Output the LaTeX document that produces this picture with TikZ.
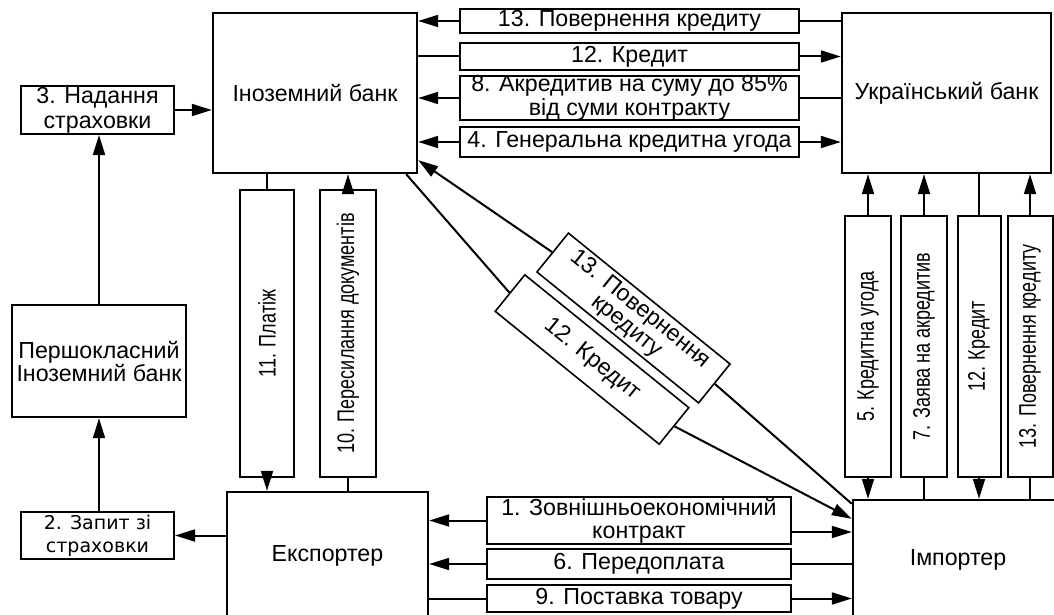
\documentclass[tikz,border=0pt]{standalone}
\usepackage{fontspec}
\setmainfont{Liberation Sans}
\newfontfamily\dejavu{DejaVu Sans}
\usepackage{graphicx}
\usetikzlibrary{arrows.meta}
\newcommand{\vtext}[1]{\rotatebox{90}{\fontsize{12}{12}\selectfont\scalebox{0.75}[1]{#1}}}

\begin{document}
\begin{tikzpicture}[x=0.5pt,y=-0.5pt,
  box/.style={draw,line width=1.2pt,align=center,inner sep=0pt,font=\fontsize{11.6}{11.5}\selectfont},
  lbl/.style={box,line width=1pt},
  ln/.style={line width=1pt},
  arr/.style={line width=1pt,-{Triangle[length=10pt,width=6pt]}}]
\useasboundingbox (0,0) rectangle (1054,615);

\node[box,minimum width=102pt,minimum height=80pt] (ino) at (315,93) {Іноземний банк};
\node[box,minimum width=104.5pt,minimum height=80pt] (ukr) at (946.5,93) {Український банк};
\node[box,minimum width=100.5pt,minimum height=64pt] (exp) at (327.5,556) {Експортер};
\node[box,minimum width=105pt,minimum height=60pt] (imp) at (958,560) {Імпортер};
\node[box,minimum width=87pt,minimum height=56pt] (pers) at (99,361) {Першокласний\\Іноземний банк};
\node[lbl,minimum width=76.5pt,minimum height=24pt,font=\fontsize{11.6}{12.5}\selectfont] (ins3) at (97.5,110) {3. Надання\\страховки};
\node[lbl,minimum width=76.5pt,minimum height=23.5pt,font=\dejavu\fontsize{9.5}{11.5}\selectfont] (ins2) at (97.5,535.5) {2. Запит зі\\страховки};

\draw[arr] (ins3.east) -- (ino.west |- ins3);
\draw[arr] (pers.north) -- (pers.north |- ins3.south);
\draw[arr] (ins2.north -| pers.north) -- (pers.south);
\draw[arr] (exp.west |- ins2) -- (ins2.east);

\node[lbl,minimum width=169.5pt,minimum height=12pt] (t13) at (629.5,21) {13. Повернення кредиту};
\node[lbl,minimum width=169.5pt,minimum height=13.5pt] (t12) at (629.5,56.5) {12. Кредит};
\node[lbl,minimum width=169.5pt,minimum height=20pt,font=\fontsize{11.6}{9.5}\selectfont] (t8) at (629.5,98) {8. Акредитив на суму до 85\%\\від суми контракту};
\node[lbl,minimum width=169.5pt,minimum height=15pt] (t4) at (629.5,142) {4. Генеральна кредитна угода};

\draw[ln] (ukr.west |- t13) -- (t13.east);
\draw[arr] (t13.west) -- (ino.east |- t13);
\draw[ln] (ino.east |- t12) -- (t12.west);
\draw[arr] (t12.east) -- (ukr.west |- t12);
\draw[ln] (ukr.west |- t8) -- (t8.east);
\draw[arr] (t8.west) -- (ino.east |- t8);
\draw[arr] (t4.west) -- (ino.east |- t4);
\draw[arr] (t4.east) -- (ukr.west |- t4);

\node[lbl,minimum width=152pt,minimum height=23.5pt] (b1) at (639,520.5) {1. Зовнішньоекономічний\\контракт};
\node[lbl,minimum width=152pt,minimum height=15pt] (b6) at (639,564) {6. Передоплата};
\node[lbl,minimum width=152pt,minimum height=13.5pt] (b9) at (639,598.5) {9. Поставка товару};

\draw[arr] (b1.west) -- (exp.east |- b1);
\draw[arr] ([yshift=-5.75pt]b1.east) -- ([yshift=-5.75pt]b1.east -| imp.west);
\draw[arr] (b6.west) -- (exp.east |- b6);
\draw[ln] (b6.east) -- (imp.west |- b6);
\draw[ln] (exp.east |- b9) -- (b9.west);
\draw[arr] (b9.east) -- (imp.west |- b9);

\node[lbl,minimum width=27pt,minimum height=143.5pt] (v11) at (267,333.5) {\vtext{11. Платіж}};
\node[lbl,minimum width=28pt,minimum height=143.5pt] (v10) at (348,333.5) {\vtext{10. Пересилання документів}};

\draw[ln] (v11.north |- ino.south) -- (v11.north);
\draw[arr] (v11.south) -- (v11.south |- exp.north);
\draw[ln] (v10.south |- exp.north) -- (v10.south);
\draw[arr] (v10.north) -- (v10.north |- ino.south);

\node[lbl,minimum width=23pt,minimum height=130.5pt] (r5) at (868,346.5) {\vtext{5. Кредитна угода}};
\node[lbl,minimum width=23pt,minimum height=130.5pt] (r7) at (924,346.5) {\vtext{7. Заява на акредитив}};
\node[lbl,minimum width=21.5pt,minimum height=130.5pt] (r12) at (979,346.5) {\vtext{12. Кредит}};
\node[lbl,minimum width=22.5pt,minimum height=130.5pt] (r13) at (1030,346.5) {\vtext{13. Повернення кредиту}};

\draw[arr] (r5.north) -- (r5.north |- ukr.south);
\draw[arr] (r5.south) -- (r5.south |- imp.north);
\draw[ln] (r7.south |- imp.north) -- (r7.south);
\draw[arr] (r7.north) -- (r7.north |- ukr.south);
\draw[ln] (r12.north |- ukr.south) -- (r12.north);
\draw[arr] (r12.south) -- (r12.south |- imp.north);
\draw[ln] (r13.south |- imp.north) -- (r13.south);
\draw[arr] (r13.north) -- (r13.north |- ukr.south);

\node[lbl,line width=0.8pt,rotate=-39,minimum width=104pt,minimum height=25pt,font=\fontsize{11.6}{11}\selectfont] (d13) at (633.5,318) {13. Повернення\\кредиту};
\node[lbl,line width=0.8pt,rotate=-39,minimum width=105.5pt,minimum height=23.5pt] (d12) at (592,359.5) {12. Кредит};

\draw[ln] ([yshift=-2.5pt]imp.north west) -- (d13.east);
\draw[arr] (d13.west) -- ([yshift=7pt]ino.south east);
\draw[ln] ([xshift=-6pt]ino.south east) -- (d12.west);
\draw[arr] (d12.east) -- ([yshift=-10pt]imp.north west);
\end{tikzpicture}
\end{document}
